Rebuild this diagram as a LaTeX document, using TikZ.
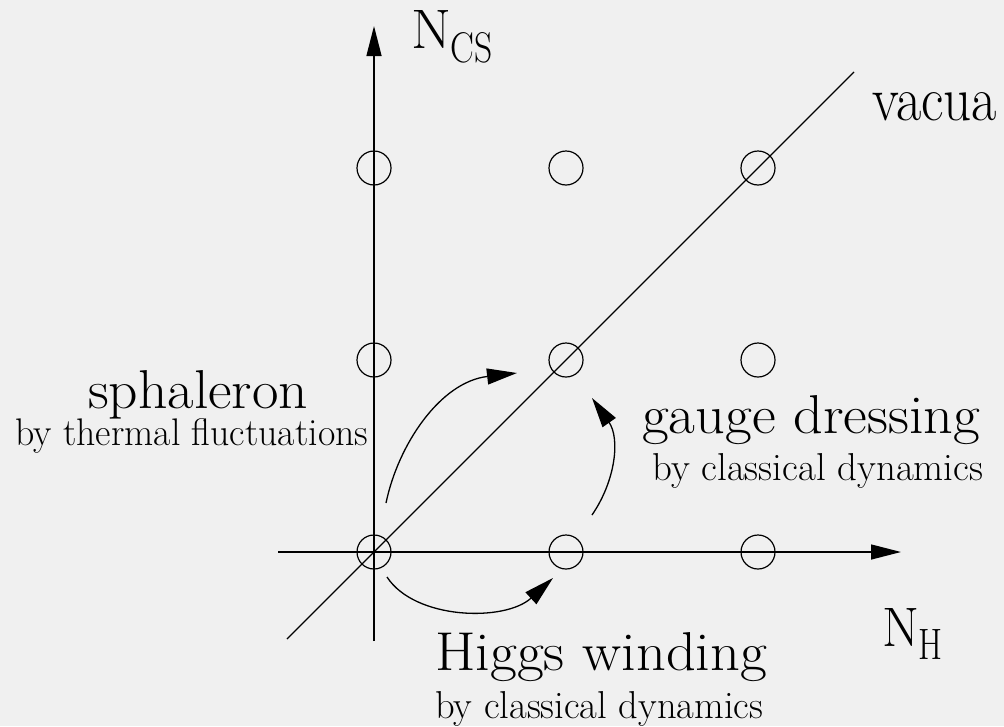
\documentclass[tikz,border=0pt]{standalone}
\usetikzlibrary{arrows.meta}
\usepackage{graphicx}
\definecolor{paper}{RGB}{240,240,240}
\tikzset{
  vac/.style={draw, circle, minimum size=34pt, inner sep=0pt, line width=1.2pt},
  axis/.style={line width=1.4pt, -{Triangle[length=30pt,width=15pt]}},
  plain/.style={line width=1.2pt},
  flow/.style={line width=1.3pt, -{Triangle[length=30pt,width=16pt]}},
  lbl/.style={anchor=base west, inner sep=0pt, font=\fontsize{50}{54}\selectfont},
}
\newcommand{\fitwh}[3]{\resizebox{#1pt}{#2pt}{#3}}
\begin{document}
\begin{tikzpicture}[x=1pt,y=-1pt]
\fill[paper] (0,0) rectangle (1004,726);
\useasboundingbox (0,0) rectangle (1004,726);

% vacua circles
\node[vac] (v00) at (374,552) {};
\node[vac] (v10) at (566,552) {};
\node[vac] (v20) at (758,552) {};
\node[vac] (v01) at (374,360) {};
\node[vac] (v11) at (566,360) {};
\node[vac] (v21) at (758,360) {};
\node[vac] (v02) at (374,168) {};
\node[vac] (v12) at (566,168) {};
\node[vac] (v22) at (758,168) {};

% axes
\coordinate (xl) at (278,552);
\coordinate (xr) at (901,552);
\coordinate (yb) at (374,641);
\coordinate (yt) at (374,26);
\coordinate (dl) at (287,639);
\coordinate (dr) at (854,72);
\draw[axis] (xl) -- (xr);
\draw[axis] (yb) -- (yt);
\draw[plain] (dl) -- (dr);

% transition arrows
\coordinate (s0) at (386,503);
\coordinate (s1) at (517,373);
\draw[flow] (s0) .. controls (398,445) and (440,382) .. (s1);
\coordinate (g0) at (592,515);
\coordinate (g1) at (592,398);
\draw[flow] (g0) .. controls (616,480) and (620,438) .. (g1);
\coordinate (h0) at (387,577);
\coordinate (h1) at (553,578);
\draw[flow] (h0) .. controls (415,620) and (505,622) .. (h1);

% labels
\node[lbl] (ncs) at (411,48) {\fitwh{40}{38}{N}\kern-1pt\raisebox{-14pt}{\fitwh{42}{30}{CS}}};
\node[lbl] (nh) at (882,646) {\fitwh{37}{38}{N}\kern-1pt\raisebox{-13pt}{\fitwh{24}{30}{H}}};
\node[lbl] (vac) at (872,120) {\fitwh{125}{28}{vacua}};
\node[lbl] (sph) at (88,408) {\fitwh{220}{38}{sphaleron}};
\node[lbl] (sphb) at (15,445) {\fitwh{353}{27}{by thermal fluctuations}};
\node[lbl] (gd) at (642,433) {\fitwh{338}{38}{gauge dressing}};
\node[lbl] (gdb) at (652,480) {\fitwh{331}{27}{by classical dynamics}};
\node[lbl] (hw) at (435,670) {\fitwh{332}{38}{Higgs winding}};
\node[lbl] (hwb) at (435,718) {\fitwh{328}{27}{by classical dynamics}};
\end{tikzpicture}
\end{document}
